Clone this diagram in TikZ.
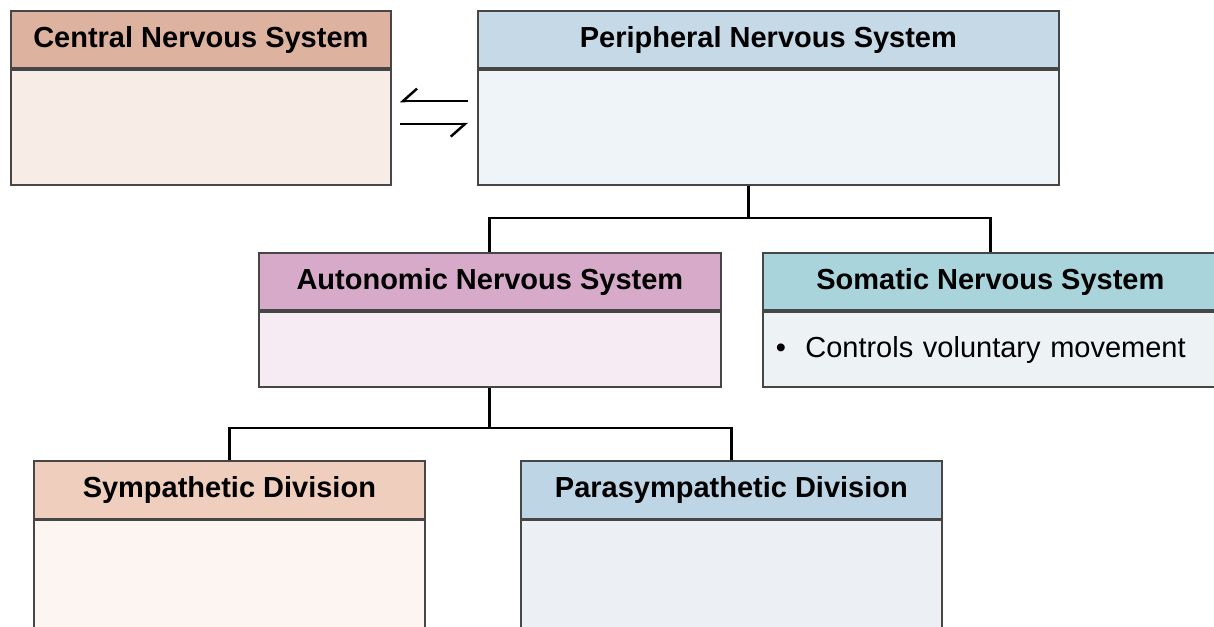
\documentclass[tikz,border=0pt]{standalone}
\usepackage{fontspec}
\setmainfont{Liberation Sans}
\usetikzlibrary{arrows.meta, positioning}
\definecolor{frame}{RGB}{70,70,70}
\definecolor{cnsTop}{RGB}{221,178,158}
\definecolor{cnsLow}{RGB}{248,236,230}
\definecolor{pnsTop}{RGB}{197,217,230}
\definecolor{pnsLow}{RGB}{239,244,249}
\definecolor{ansTop}{RGB}{214,170,200}
\definecolor{ansLow}{RGB}{247,235,243}
\definecolor{snsTop}{RGB}{170,212,219}
\definecolor{snsLow}{RGB}{237,243,245}
\definecolor{symTop}{RGB}{240,206,190}
\definecolor{symLow}{RGB}{252,245,241}
\definecolor{parTop}{RGB}{189,213,228}
\definecolor{parLow}{RGB}{236,240,244}
\tikzset{
	hdr/.style ={rectangle, draw=frame, line width=1pt, anchor=north west, minimum height=1.15cm, inner sep=0pt, font=\bfseries\fontsize{16.5}{18}\selectfont},
	bdy/.style ={rectangle, draw=frame, line width=1pt, inner sep=0pt, font=\fontsize{16.5}{18}\selectfont},
	tree/.style={line width=1.6pt, black},
	harp/.style={-{Straight Barb[right, length=2.8mm, width=5mm]}, line width=1.4pt},
}
\begin{document}
\begin{tikzpicture}
			\clip (0,0) rectangle (24.28,-12.54);
			\fill[white] (0,0) rectangle (24.28,-12.54);
			% top row
			\node[hdr, fill=cnsTop, minimum width=7.6cm] (cnsH) at (0.2,-0.2) {Central Nervous System};
			\node[bdy, fill=cnsLow, minimum width=7.6cm, minimum height=2.3cm, below=0pt of cnsH] (cnsB) {};
			\node[hdr, fill=pnsTop, minimum width=11.62cm] (pnsH) at (9.54,-0.2) {Peripheral Nervous System};
			\node[bdy, fill=pnsLow, minimum width=11.62cm, minimum height=2.3cm, below=0pt of pnsH] (pnsB) {};
			% middle row
			\node[hdr, fill=ansTop, minimum width=9.24cm] (ansH) at (5.16,-5.04) {Autonomic Nervous System};
			\node[bdy, fill=ansLow, minimum width=9.24cm, minimum height=1.5cm, below=0pt of ansH] (ansB) {};
			\node[hdr, fill=snsTop, minimum width=9.1cm] (snsH) at (15.24,-5.04) {Somatic Nervous System};
			\node[bdy, fill=snsLow, minimum width=9.1cm, minimum height=1.5cm, text width=8.58cm, inner xsep=0.26cm, align=left, below=0pt of snsH] (snsB) {\textbullet\ \ Controls voluntary movement};
			% bottom row
			\node[hdr, fill=symTop, minimum width=7.82cm] (symH) at (0.66,-9.2) {Sympathetic Division};
			\node[bdy, fill=symLow, minimum width=7.82cm, minimum height=3.5cm, below=0pt of symH] (symB) {};
			\node[hdr, fill=parTop, minimum width=8.42cm] (parH) at (10.4,-9.2) {Parasympathetic Division};
			\node[bdy, fill=parLow, minimum width=8.42cm, minimum height=3.5cm, below=0pt of parH] (parB) {};
			% exchange between CNS and PNS
			\draw[harp] ([shift={(-0.18,0.53)}]pnsB.west) -- ([shift={(0.16,0.53)}]cnsB.east);
			\draw[harp] ([shift={(0.16,0.07)}]cnsB.east) -- ([shift={(-0.18,0.07)}]pnsB.west);
			% branches
			\draw[tree] ([xshift=-0.39cm]pnsB.south) -- ++(0,-0.64) coordinate (j1);
			\draw[tree] (ansH.north) |- (j1) -| (snsH.north);
			\draw[tree] (ansB.south) -- ++(0,-0.8) coordinate (j2);
			\draw[tree] (symH.north) |- (j2) -| (parH.north);
		\end{tikzpicture}
\end{document}
